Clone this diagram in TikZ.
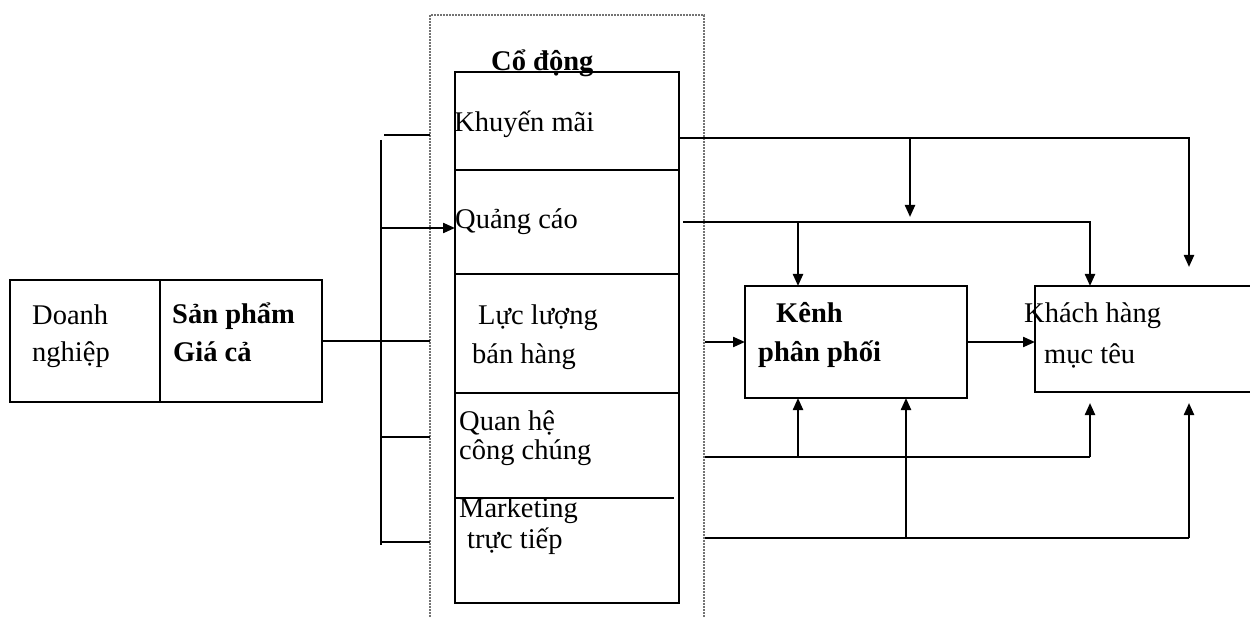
\documentclass[tikz,border=0pt]{standalone}
\usepackage{fontspec}
\setmainfont{Liberation Serif}
\usetikzlibrary{arrows.meta}

\tikzset{
  block/.style={draw, line width=2.2pt, inner sep=0pt, outer sep=0pt},
  cell/.style={inner sep=0pt, outer sep=0pt},
  wire/.style={line width=2.2pt},
  arr/.style={wire, -{Triangle[length=12pt,width=10pt]}},
  frame/.style={densely dotted, line width=2pt, black!55},
  lbl/.style={anchor=base west, inner sep=0pt, font=\fontsize{28.5}{34}\selectfont},
  blbl/.style={lbl, font=\fontsize{28.5}{34}\selectfont\bfseries}
}

\begin{document}
\begin{tikzpicture}[x=1pt, y=-1pt]
\useasboundingbox (0,0) rectangle (1250,617);

% firm box: Doanh nghiep | San pham, Gia ca
\node[block, minimum width=312pt, minimum height=122pt] (firm) at (166,341) {};
\draw[wire] (firm.north -| 160,0) -- (firm.south -| 160,0);
\node[lbl]  (t1) at (32,325) {Doanh};
\node[lbl]  (t2) at (32,362) {nghiệp};
\node[blbl] (t3) at (172,324) {Sản phẩm};
\node[blbl] (t4) at (173,362) {Giá cả};

% promotion group frame
\draw[frame] (430,617) -- (430,15) -- (704,15) -- (704,617);

% promotion mix rows
\node[cell, minimum width=224pt, minimum height=98pt]  (km) at (567,121) {};
\node[cell, minimum width=224pt, minimum height=104pt] (qc) at (567,222) {};
\node[cell, minimum width=224pt, minimum height=119pt] (ll) at (567,333.5) {};
\node[cell, minimum width=224pt, minimum height=105pt] (qh) at (567,445.5) {};
\node[cell, minimum width=224pt, minimum height=105pt] (mk) at (567,550.5) {};
\draw[wire] (km.north west) rectangle (mk.south east);
\draw[wire] (km.south west) -- (km.south east);
\draw[wire] (qc.south west) -- (qc.south east);
\draw[wire] (ll.south west) -- (ll.south east);
\draw[wire] (mk.north west) -- ([xshift=-5pt]mk.north east);

\node[blbl] (cd) at (491,71) {Cổ động};
\node[lbl] (l1) at (454,132) {Khuyến mãi};
\node[lbl] (l2) at (455,229) {Quảng cáo};
\node[lbl] (l3) at (478,325) {Lực lượng};
\node[lbl] (l4) at (472,363) {bán hàng};
\node[lbl] (l5) at (459,430) {Quan hệ};
\node[lbl] (l6) at (459,459) {công chúng};
\node[lbl] (l7) at (459,517) {Marketing};
\node[lbl] (l8) at (467,548) {trực tiếp};

% distribution channel and target customers
\node[block, minimum width=222pt, minimum height=112pt] (kenh) at (856,342) {};
\node[blbl] (k1) at (776,323) {Kênh};
\node[blbl] (k2) at (758,362) {phân phối};
\node[block, minimum width=240pt, minimum height=106pt] (khach) at (1155,339) {};
\node[lbl] (c1) at (1024,323) {Khách hàng};
\node[lbl] (c2) at (1044,363) {mục têu};

% left-hand distribution bus
\coordinate (busT) at (381,140);
\coordinate (busB) at (381,545);
\draw[wire] (busT) -- (busB);
\draw[wire] (384,135) -- (430,135);
\draw[arr] (busT |- 0,228) -- (qc.west |- 0,228);
\draw[wire] (firm.east) -- (firm.east -| 430,0);
\draw[wire] (busT |- 0,437) -- (430,437);
\draw[wire] (busT |- 0,542) -- (430,542);

% outputs from the promotion mix
\coordinate (kmOut) at (679,138);
\coordinate (khTip1) at (1189,267);
\draw[arr] (kmOut) -| (khTip1);
\coordinate (j1) at (910,138);
\coordinate (j1tip) at (910,217);
\draw[arr] (j1) -- (j1tip);

\coordinate (qcOut) at (683,222);
\draw[arr] (qcOut) -| (khach.north -| 1090,0);
\draw[arr] (798,222) -- (kenh.north -| 798,0);

\draw[arr] (kenh.west -| 705,0) -- (kenh.west);
\draw[arr] (kenh.east) -- (kenh.east -| khach.west);

\coordinate (r3) at (705,457);
\coordinate (r3e) at (1090,457);
\draw[wire] (r3) -- (r3e);
\draw[arr] (798,457) -- (kenh.south -| 798,0);
\coordinate (khTip2) at (1090,403);
\draw[arr] (r3e) -- (khTip2);

\coordinate (r4) at (705,538);
\coordinate (r4e) at (1189,538);
\draw[wire] (r4) -- (r4e);
\draw[arr] (906,538) -- (kenh.south -| 906,0);
\coordinate (khTip3) at (1189,403);
\draw[arr] (r4e) -- (khTip3);
\end{tikzpicture}
\end{document}
